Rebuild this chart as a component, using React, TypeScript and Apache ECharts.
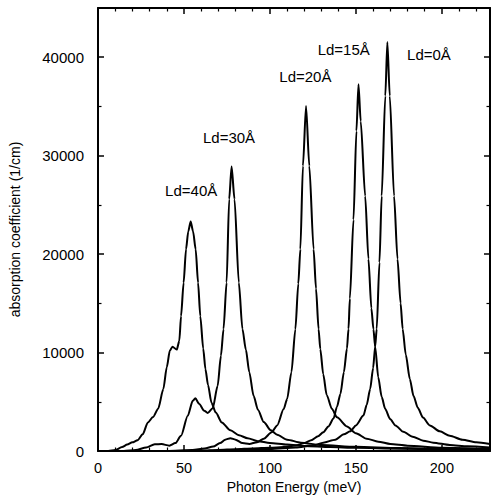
import React, { useEffect, useRef } from "react";
import * as echarts from "echarts";

const FONT = "'Liberation Sans', Arial, Helvetica, sans-serif";

const seriesNames = ["Ld=40Å", "Ld=30Å", "Ld=20Å", "Ld=15Å", "Ld=0Å"];

const ld40: number[][] = [
  [0, 0], [6, 0], [10, 100], [14, 400], [17, 650], [20, 880], [23, 1100], [26, 1700],
  [29, 2900], [32, 3450], [35, 4300], [38, 6300], [40, 8500], [41.8, 10200], [43.3, 10600],
  [45.8, 10300], [47.3, 11200], [48.3, 13700], [49.8, 17100], [51.2, 20500], [52.5, 22300],
  [53.9, 23300], [55.3, 22300], [56.8, 20500], [58.2, 17100], [59.5, 13700], [61.2, 10400],
  [62.5, 8300], [64, 6700], [66, 4900], [68.5, 3900], [72, 2900], [77, 2100], [82, 1600],
  [87, 1300], [93, 1000], [100, 820], [110, 650], [120, 520], [135, 400], [150, 320],
  [175, 240], [200, 190], [228, 150],
];

const ld30: number[][] = [
  [0, 0], [15, 0], [22, 100], [28, 350], [33, 680], [37, 700], [41.5, 540], [45, 800],
  [48.3, 1550], [52.2, 3580], [55.1, 5100], [56.6, 5350], [58.9, 4770], [61.8, 4090],
  [63.8, 3860], [66.7, 4330], [69.6, 6630], [71.5, 9670], [73, 12380], [74.8, 17120],
  [76.3, 25580], [77.7, 28900], [79.4, 25580], [81.9, 17120], [84, 12400], [86, 10300],
  [88, 8000], [90.5, 5600], [93, 4200], [96.4, 2950], [100.5, 2100], [104.2, 1650],
  [110, 1150], [118, 850], [130, 600], [150, 420], [175, 300], [200, 230], [228, 180],
];

const ld20: number[][] = [
  [0, 0], [40, 0], [55, 100], [62, 250], [67, 450], [71, 800], [74, 1150], [77, 1300],
  [80, 1150], [84, 800], [88, 720], [92.6, 900], [96.4, 1250], [101, 1900], [104.2, 2600],
  [108, 4260], [110, 5280], [112.5, 8000], [114.8, 12380], [116.5, 17000], [117.7, 20500],
  [119.2, 28960], [121, 35050], [122.9, 28960], [125.4, 20500], [126.8, 16500],
  [128.3, 12380], [129.3, 10350], [131, 7800], [133, 5700], [136, 4300], [139, 3420],
  [144.8, 2500], [150, 1800], [156.3, 1250], [163, 950], [170, 710], [180, 540],
  [200, 330], [228, 200],
];

const ld15: number[][] = [
  [0, 0], [50, 0], [60, 40], [70, 100], [80, 180], [90, 260], [100, 330], [108, 400],
  [115, 550], [120, 800], [124, 1100], [128, 1500], [131, 1900], [134, 2500], [137, 3300],
  [139, 4500], [141, 5800], [143, 8000], [144.8, 10400], [145.7, 12400], [146.5, 15500],
  [148.6, 23500], [150.3, 32500], [151.5, 37250], [152.8, 33500], [155.4, 25900],
  [157.3, 19500], [159, 14500], [160.2, 12380], [161.2, 10600], [163, 7500], [165, 5500],
  [167, 4300], [169.9, 3250], [173, 2600], [177.6, 1950], [183, 1450], [189.2, 1050],
  [195, 850], [204.6, 610], [215, 470], [228, 350],
];

const ld0: number[][] = [
  [0, 0], [60, 0], [80, 100], [100, 200], [115, 350], [125, 550], [131, 850], [138, 1150],
  [143, 1700], [146.7, 2000], [150, 2600], [154.4, 3600], [156.3, 4700], [158.3, 6300],
  [160, 8400], [161.2, 10600], [162.1, 12400], [163.7, 19150], [165, 25900], [167.1, 36060],
  [168.3, 41540], [169.7, 36060], [172.2, 25900], [174.2, 19500], [176, 15000],
  [177.2, 12400], [179, 9800], [181.4, 7300], [183.5, 5600], [186, 4400], [189, 3400],
  [193, 2600], [198.8, 2000], [204.6, 1550], [212, 1150], [220, 880], [228, 720],
];

const curves = [ld40, ld30, ld20, ld15, ld0];

// annotation anchor positions (data coordinates, text centre)
const labelX = [54.2, 76.2, 120.6, 142.9, 192.5];
const labelY = [26500, 31800, 38000, 40800, 40300];

const xMin = 0;
const xMax = 228;
const xInterval = 50;
const yMin = 0;
const yMax = 45000;
const yInterval = 10000;

export default function App() {
  const ref = useRef<HTMLDivElement>(null);

  useEffect(() => {
    if (!ref.current) return;
    const chart = echarts.init(ref.current, undefined, { renderer: "svg" });

    const axisLine = { show: true, onZero: false, lineStyle: { color: "#000", width: 2 } };
    const axisTick = { show: true, inside: true, length: 6, lineStyle: { color: "#000", width: 1.5 } };

    const xBase = {
      type: "value" as const,
      min: xMin,
      max: xMax,
      interval: xInterval,
      axisLine,
      axisTick,
      minorTick: { show: true, splitNumber: 5, length: 3.5, lineStyle: { color: "#000", width: 1.2 } },
      splitLine: { show: false },
      minorSplitLine: { show: false },
    };
    const yBase = {
      type: "value" as const,
      min: yMin,
      max: yMax,
      interval: yInterval,
      axisLine,
      axisTick,
      minorTick: { show: true, splitNumber: 2, length: 3.5, lineStyle: { color: "#000", width: 1.2 } },
      splitLine: { show: false },
      minorSplitLine: { show: false },
    };

    const option: any = {
      animation: false,
      backgroundColor: "#fff",
      grid: { left: 97, right: 1, top: 8, bottom: 47, containLabel: false },
      xAxis: [
        {
          ...xBase,
          position: "bottom",
          axisLabel: {
            show: true,
            showMaxLabel: false,
            color: "#000",
            fontSize: 14.5,
            fontFamily: FONT,
            margin: 9,
            formatter: (v: number) => String(v),
          },
          name: "Photon Energy (meV)",
          nameLocation: "middle",
          nameGap: 29,
          nameTextStyle: { color: "#000", fontSize: 14, fontFamily: FONT },
        },
        {
          ...xBase,
          position: "top",
          axisLabel: { show: false },
        },
      ],
      yAxis: [
        {
          ...yBase,
          position: "left",
          axisLabel: {
            show: true,
            showMaxLabel: false,
            color: "#000",
            fontSize: 15,
            fontFamily: FONT,
            margin: 14,
            formatter: (v: number) => String(v),
          },
          name: "absorption coefficient (1/cm)",
          nameLocation: "middle",
          nameGap: 76,
          nameTextStyle: { color: "#000", fontSize: 14, fontFamily: FONT },
        },
        {
          ...yBase,
          position: "right",
          axisLabel: { show: false },
        },
      ],
      series: curves.map((d, i) => ({
        name: seriesNames[i],
        type: "line",
        xAxisIndex: 0,
        yAxisIndex: 0,
        data: d,
        showSymbol: false,
        smooth: 0.25,
        smoothMonotone: "x",
        lineStyle: { color: "#000", width: 2 },
        emphasis: { disabled: true },
        silent: true,
        z: 3,
      })),
    };

    chart.setOption(option);

    const graphics = seriesNames.map((name, i) => {
      const p = chart.convertToPixel({ gridIndex: 0 }, [labelX[i], labelY[i]]) as number[];
      return {
        type: "text",
        x: p[0],
        y: p[1],
        style: {
          text: name,
          fill: "#000",
          font: `15px ${FONT}`,
          align: "center",
          verticalAlign: "middle",
        },
        z: 10,
      };
    });
    chart.setOption({ graphic: graphics });

    return () => {
      chart.dispose();
    };
  }, []);

  return (
    <div
      ref={ref}
      style={{ position: "fixed", left: 0, top: 0, width: 491, height: 499, background: "#fff" }}
    />
  );
}
